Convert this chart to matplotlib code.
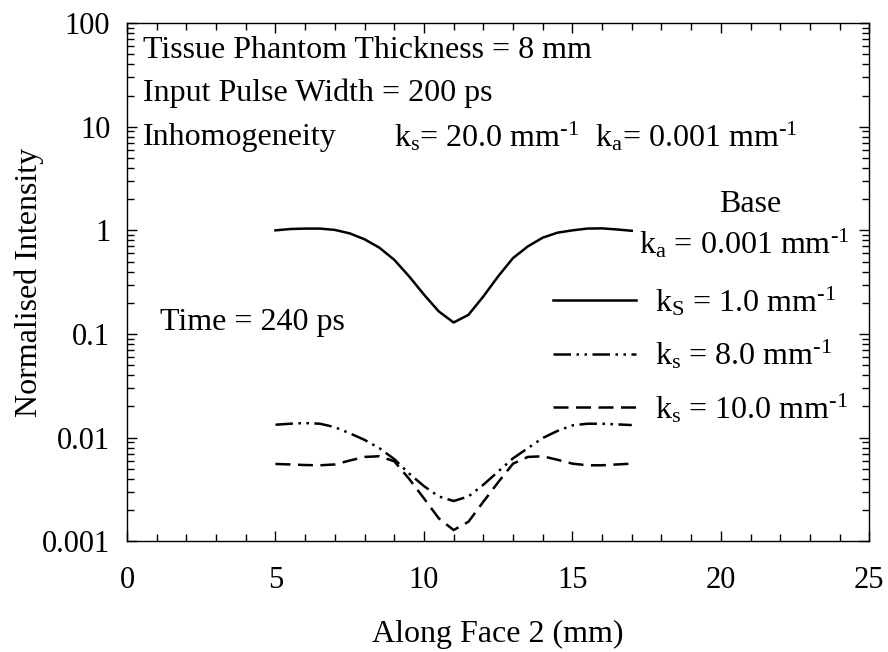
import matplotlib
matplotlib.use('Agg')
import matplotlib.pyplot as plt
from matplotlib.ticker import FixedLocator, LogLocator, NullFormatter, FuncFormatter

plt.rcParams['font.family'] = ['Liberation Serif', 'DejaVu Serif']
plt.rcParams['mathtext.fontset'] = 'custom'
plt.rcParams['mathtext.rm'] = 'Liberation Serif'
plt.rcParams['mathtext.it'] = 'Liberation Serif'

# position along face 2 (mm)
x = [5, 5.5, 6, 6.5, 7, 7.5, 8, 8.5, 9, 9.5, 10, 10.5, 11,
     11.5, 12, 12.5, 13, 13.5, 14, 14.5, 15, 15.5, 16, 16.5, 17]

# ks = 1.0 mm-1
ks1 = [1.0, 1.03, 1.04, 1.04, 1.01, 0.935, 0.82, 0.68, 0.52, 0.36, 0.24, 0.165, 0.129,
       0.153, 0.23, 0.36, 0.54, 0.70, 0.85, 0.95, 1.0, 1.04, 1.045, 1.02, 0.99]
# ks = 8.0 mm-1
ks8 = [0.0133, 0.0136, 0.0138, 0.0136, 0.0126, 0.011, 0.0095, 0.0079, 0.0062, 0.0045, 0.0034, 0.0027, 0.00244,
       0.0027, 0.0035, 0.0047, 0.0063, 0.0079, 0.0099, 0.0116, 0.0131, 0.0136, 0.0136, 0.0134, 0.0132]
# ks = 10.0 mm-1
ks10 = [0.00556, 0.0055, 0.00543, 0.0054, 0.0055, 0.006, 0.0065, 0.0066, 0.0059, 0.0040, 0.00259, 0.00166, 0.00128,
        0.00154, 0.0024, 0.0037, 0.0056, 0.0065, 0.0066, 0.0061, 0.0056, 0.0054, 0.0054, 0.0055, 0.0056]

labels = [r'k$_\mathrm{S}$ = 1.0 mm$^{\text{-1}}$',
          r'k$_\mathrm{s}$ = 8.0 mm$^{\text{-1}}$',
          r'k$_\mathrm{s}$ = 10.0 mm$^{\text{-1}}$']

ytick_vals = [0.001, 0.01, 0.1, 1, 10, 100]

fig = plt.figure(figsize=(8.88, 6.52), dpi=100)
ax = fig.add_axes([0.143, 0.170, 0.836, 0.7945])

lw = 1.8
ax.plot(x, ks1, color='black', lw=lw, label=labels[0])
ax.plot(x, ks8, color='black', lw=lw, dashes=(7, 2.2, 1, 2.2, 1, 2.2), label=labels[1])
ax.plot(x, ks10, color='black', lw=lw, dashes=(6, 3), label=labels[2])

ax.set_yscale('log')
ax.set_xlim(0, 25)
ax.set_ylim(0.001, 100)
ax.set_xticks([0, 5, 10, 15, 20, 25])
ax.xaxis.set_minor_locator(FixedLocator(range(0, 26)))
ax.yaxis.set_major_locator(FixedLocator(ytick_vals))
ax.yaxis.set_major_formatter(FuncFormatter(lambda v, p: '%g' % v))
ax.yaxis.set_minor_locator(LogLocator(base=10, subs=range(2, 10)))
ax.yaxis.set_minor_formatter(NullFormatter())
ax.tick_params(which='both', direction='in', top=True, right=True, labelsize=22, width=1)
ax.tick_params(which='major', length=7)
ax.tick_params(which='minor', length=5)
ax.tick_params(axis='x', which='major', pad=18)
ax.tick_params(axis='y', which='major', pad=12)
for s in ax.spines.values():
    s.set_linewidth(1)

fs = 23
ax.set_xlabel('Along Face 2 (mm)', fontsize=fs)
ax.set_ylabel('Normalised Intensity', fontsize=fs)
ax.xaxis.set_label_coords(0.5, -0.152)
ax.yaxis.set_label_coords(-0.112, 0.5)

ax.text(0.021, 0.948, 'Tissue Phantom Thickness = 8 mm', transform=ax.transAxes, fontsize=fs, va='center')
ax.text(0.021, 0.865, 'Input Pulse Width = 200 ps', transform=ax.transAxes, fontsize=fs, va='center')
ax.text(0.021, 0.780, 'Inhomogeneity', transform=ax.transAxes, fontsize=fs, va='center')
ax.text(0.360, 0.780, r'k$_\mathrm{s}$= 20.0 mm$^{\text{-1}}$  k$_\mathrm{a}$= 0.001 mm$^{\text{-1}}$',
        transform=ax.transAxes, fontsize=fs, va='center')
ax.text(0.044, 0.423, 'Time = 240 ps', transform=ax.transAxes, fontsize=fs, va='center')
ax.text(0.840, 0.650, 'Base', transform=ax.transAxes, fontsize=fs, ha='center', va='center')
ax.text(0.690, 0.575, r'k$_\mathrm{a}$ = 0.001 mm$^{\text{-1}}$', transform=ax.transAxes, fontsize=fs,
        ha='left', va='center')

ax.legend(loc='upper left', bbox_to_anchor=(0.574, 0.495), frameon=False, fontsize=fs,
          handlelength=2.6, handletextpad=0.6, labelspacing=0.62, borderpad=0, borderaxespad=0)

fig.savefig('out.png', dpi=100)
